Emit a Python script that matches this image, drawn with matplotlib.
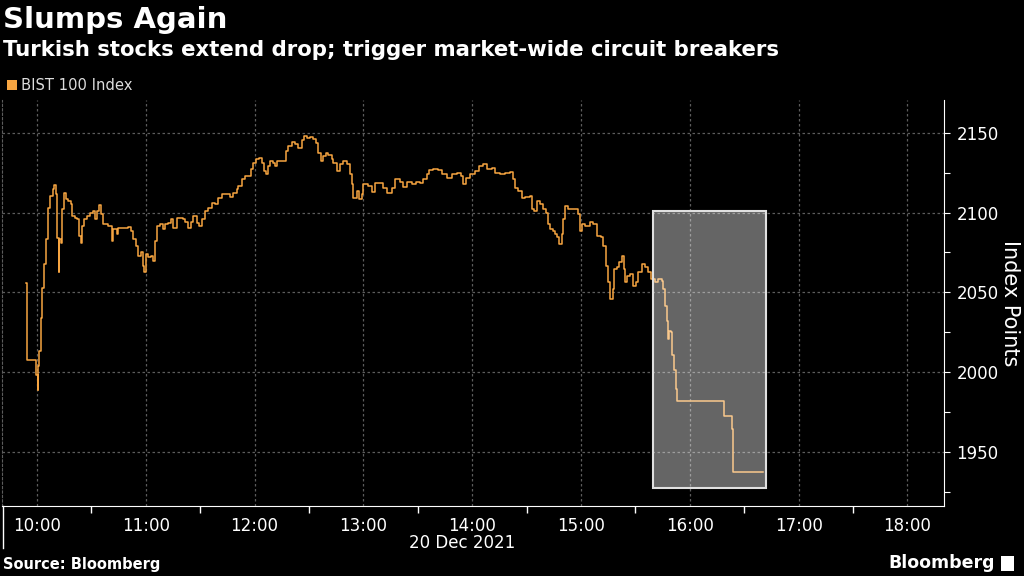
import matplotlib
matplotlib.use("Agg")
import matplotlib.pyplot as plt
from matplotlib.patches import Rectangle

# ---- data (minutes after 10:00, index value) ----
minutes = [-5.8, -5.6, -0.3, 0.3, 0.8, 1.3, 2.0, 2.9, 4.0, 4.8, 5.9, 7.2, 8.6, 9.5, 10.5, 11.2, 12.0, 12.3,
           13.2, 13.8, 14.9, 16.0, 17.3, 18.6, 19.1, 21.0, 22.2, 23.2, 24.1, 24.7, 25.9, 27.4, 29.2, 31.0,
           32.0, 32.9, 34.4, 35.3, 36.6, 39.3, 41.2, 42.1, 44.0, 44.8, 47.6, 50.4, 51.7, 53.1, 54.6, 55.9,
           57.2, 58.3, 59.0, 60.1, 61.4, 62.7, 64.1, 65.1, 66.3, 67.8, 69.3, 70.6, 72.4, 73.7, 75.2, 77.0,
           78.9, 80.4, 81.6, 83.4, 84.8, 86.2, 88.1, 89.5, 90.8, 92.7, 94.5, 96.3, 98.2, 100.0, 101.9, 104.6,
           106.4, 108.3, 110.1, 111.0, 112.9, 114.7, 116.5, 117.9, 119.3, 120.8, 122.6, 123.9, 125.2, 126.3,
           127.6, 128.5, 130.3, 131.3, 132.2, 135.8, 137.3, 138.6, 140.5, 142.3, 144.1, 146.0, 147.3, 148.7,
           150.6, 152.4, 153.9, 155.1, 156.5, 157.9, 159.4, 160.7, 162.5, 163.5, 165.3, 167.0, 168.9, 170.7,
           172.6, 173.5, 174.5, 176.3, 177.8, 179.0, 180.0, 182.5, 184.6, 186.4, 189.0, 191.0, 193.2, 195.5,
           197.4, 200.0, 202.0, 204.3, 206.7, 209.0, 211.0, 213.0, 214.8, 216.4, 218.6, 221.3, 223.2, 225.9,
           228.7, 231.5, 233.7, 235.1, 236.6, 238.8, 241.5, 243.9, 245.8, 248.0, 250.8, 252.6, 255.4, 258.1,
           260.9, 262.7, 263.6, 265.4, 267.3, 269.1, 271.9, 272.8, 274.0, 275.9, 277.3, 279.2, 280.7, 282.0,
           283.0, 284.4, 285.7, 286.6, 288.0, 289.4, 290.3, 291.2, 293.0, 294.9, 297.3, 298.6, 299.5, 300.4,
           302.3, 305.0, 306.8, 308.7, 310.9, 312.3, 313.8, 315.1, 316.0, 317.5, 318.2, 319.7, 321.1, 322.6,
           323.7, 324.2, 325.1, 326.9, 328.8, 330.2, 331.6, 333.5, 335.3, 336.7, 338.6, 340.8, 342.6, 344.5,
           345.4, 346.3, 347.3, 348.2, 348.8, 349.4, 350.0, 351.3, 352.4, 353.1, 378.9, 383.1, 384.0, 400.5]
values = [2055.8, 2007.7, 1998.0, 1988.5, 2004.0, 2013.5, 2034.0, 2053.0, 2068.0, 2083.3, 2103.0, 2110.4,
          2114.6, 2117.1, 2111.4, 2084.3, 2062.5, 2083.3, 2081.2, 2102.1, 2112.5, 2108.3, 2107.3, 2105.2,
          2097.9, 2096.8, 2095.8, 2085.4, 2081.2, 2091.6, 2095.8, 2097.9, 2100.0, 2101.0, 2095.8, 2101.0,
          2104.6, 2098.9, 2092.7, 2091.6, 2082.3, 2089.5, 2086.4, 2090.6, 2090.6, 2091.2, 2088.5, 2083.3,
          2079.1, 2072.9, 2075.0, 2066.6, 2062.5, 2074.0, 2071.9, 2072.9, 2069.8, 2082.3, 2091.7, 2092.7,
          2089.5, 2092.7, 2093.3, 2095.8, 2090.6, 2096.8, 2096.8, 2095.8, 2094.1, 2090.6, 2094.1, 2097.9,
          2093.7, 2091.6, 2095.8, 2101.0, 2103.1, 2106.2, 2105.2, 2109.4, 2111.4, 2111.4, 2110.0, 2112.5,
          2114.6, 2116.6, 2120.8, 2122.9, 2122.9, 2127.1, 2131.2, 2133.3, 2134.3, 2131.2, 2126.0, 2124.0,
          2129.1, 2132.3, 2131.2, 2129.1, 2132.3, 2132.3, 2138.5, 2141.6, 2144.1, 2142.7, 2140.6, 2145.8,
          2148.3, 2146.8, 2147.5, 2146.2, 2143.7, 2137.5, 2132.3, 2135.4, 2137.5, 2136.4, 2133.3, 2131.3,
          2126.1, 2130.2, 2132.3, 2130.2, 2124.0, 2117.7, 2109.4, 2113.6, 2108.3, 2111.5, 2117.7, 2116.7,
          2113.0, 2118.8, 2118.8, 2115.6, 2112.5, 2115.6, 2120.9, 2119.0, 2116.3, 2119.2, 2117.7, 2119.2,
          2118.4, 2120.9, 2124.0, 2126.7, 2127.1, 2126.5, 2124.0, 2121.9, 2124.0, 2125.0, 2122.9, 2117.7,
          2121.9, 2124.0, 2126.1, 2129.2, 2130.2, 2127.1, 2128.1, 2125.0, 2124.0, 2124.6, 2125.4, 2120.9,
          2115.6, 2113.6, 2109.4, 2110.0, 2110.4, 2102.1, 2101.0, 2107.3, 2105.2, 2102.1, 2100.0, 2092.7,
          2089.6, 2088.5, 2086.5, 2084.4, 2080.2, 2086.5, 2095.9, 2104.2, 2102.5, 2102.1, 2102.5, 2099.0,
          2088.5, 2092.7, 2091.7, 2093.8, 2092.7, 2085.4, 2084.4, 2079.2, 2066.7, 2056.3, 2045.8, 2052.1,
          2064.6, 2065.6, 2068.8, 2072.9, 2064.6, 2056.3, 2060.4, 2061.5, 2054.2, 2056.3, 2062.5, 2067.7,
          2065.6, 2062.5, 2058.3, 2056.7, 2058.3, 2057.3, 2052.1, 2041.7, 2032.3, 2020.8, 2026.0, 2025.0,
          2010.4, 2001.0, 1989.6, 1981.7, 1972.5, 1964.2, 1937.5, 1937.5]

x_hours = [10, 11, 12, 13, 14, 15, 16, 17, 18]
x_labels = ["10:00", "11:00", "12:00", "13:00", "14:00", "15:00", "16:00", "17:00", "18:00"]
y_ticks = [1950, 2000, 2050, 2100, 2150]
y_labels = ["1950", "2000", "2050", "2100", "2150"]
y_minor = [1925, 1975, 2025, 2075, 2125]

# highlighted region (circuit breaker window)
box_start, box_end = 15 + 39.8 / 60, 16 + 42 / 60
box_low, box_high = 1927.5, 2101.3

series_name = "BIST 100 Index"
title = "Slumps Again"
subtitle = "Turkish stocks extend drop; trigger market-wide circuit breakers"
date_label = "20 Dec 2021"
source = "Source: Bloomberg"

ORANGE = "#F7A541"
GRID = "#5c5c5c"
FG = "#ffffff"

plt.rcParams['font.family'] = ['DejaVu Sans']
fig = plt.figure(figsize=(10.24, 5.76), dpi=100, facecolor="black")
ax = fig.add_axes([2 / 1024, 1 - 506 / 576, 942 / 1024, 406 / 576])
ax.set_facecolor("black")

xs = [10 + m / 60 for m in minutes]
ax.step(xs, values, where="post", color=ORANGE, lw=1.1, zorder=3)

ax.add_patch(Rectangle((box_start, box_low), box_end - box_start, box_high - box_low,
                       facecolor="white", alpha=0.4, edgecolor="none", zorder=4))
ax.add_patch(Rectangle((box_start, box_low), box_end - box_start, box_high - box_low,
                       facecolor="none", edgecolor="#e0e0e0", lw=1.5, zorder=5))

ax.set_xticks(x_hours)
ax.set_xticklabels(x_labels)
ax.set_xticks([h + 0.5 for h in range(10, 18)], minor=True)
ax.tick_params(axis="x", which="major", length=0, pad=8, labelsize=12, labelcolor=FG)
ax.tick_params(axis="x", which="minor", length=5, color=FG, width=1)

ax.yaxis.tick_right()
ax.yaxis.set_label_position("right")
ax.set_yticks(y_ticks)
ax.set_yticklabels(y_labels)
ax.set_yticks(y_minor, minor=True)
ax.tick_params(axis="y", which="major", length=4, color=FG, labelsize=12, labelcolor=FG, pad=5)
ax.tick_params(axis="y", which="minor", length=4, color=FG, width=0.8)
ax.set_ylabel("Index Points", color=FG, fontsize=15, rotation=-90, labelpad=15)

ax.set_xlim(10 - 35 / 108.8, 10 + 907 / 108.8)
ax.set_ylim(1916.0, 2170.6)

ax.grid(True, which="major", color=GRID, linestyle=(0, (2, 2)), lw=0.9, zorder=1)
ax.spines["top"].set_visible(False)
ax.spines["left"].set_color(GRID)
ax.spines["left"].set_linestyle((0, (2, 2)))
ax.spines["right"].set_color(FG)
ax.spines["bottom"].set_color(FG)

# day separator line below axis
fig.add_artist(plt.Line2D([2.5 / 1024, 2.5 / 1024], [1 - 506 / 576, 1 - 548 / 576], color=FG, lw=1))

fig.text(3 / 1024, 1 - 20 / 576, title, color=FG, fontsize=21, fontweight="bold", va="center", ha="left")
fig.text(3 / 1024, 1 - 50 / 576, subtitle, color=FG, fontsize=15.3, fontweight="bold", va="center", ha="left")
fig.patches.append(Rectangle((7 / 1024, 1 - 90 / 576), 10 / 1024, 10 / 576, transform=fig.transFigure,
                             facecolor=ORANGE, edgecolor="none"))
fig.text(21 / 1024, 1 - 86 / 576, series_name, color="#dddddd", fontsize=10.6, va="center", ha="left")
fig.text(462 / 1024, 1 - 543 / 576, date_label, color=FG, fontsize=12, va="center", ha="center")
fig.text(3 / 1024, 1 - 565 / 576, source, color=FG, fontsize=10.5, fontweight="bold", va="center", ha="left")
fig.text(995 / 1024, 1 - 563 / 576, "Bloomberg", color=FG, fontsize=12.5, fontweight="bold", va="center", ha="right")
fig.patches.append(Rectangle((1001 / 1024, 1 - 571 / 576), 13 / 1024, 15 / 576, transform=fig.transFigure,
                             facecolor=FG, edgecolor="none"))

fig.savefig("out.png", dpi=100, facecolor="black")
